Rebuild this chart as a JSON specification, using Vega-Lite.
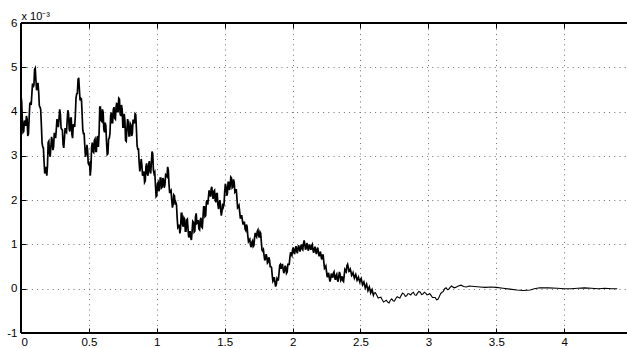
{
  "$schema": "https://vega.github.io/schema/vega-lite/v6.json",
  "width": 606,
  "height": 310,
  "autosize": {"type": "none"},
  "padding": {"left": 21, "top": 23, "right": 0, "bottom": 15},
  "background": "white",
  "config": {
    "view": {"stroke": null},
    "font": "Liberation Sans",
    "axis": {
      "labelFont": "Liberation Sans",
      "labelFontSize": 11.5,
      "labelColor": "black",
      "domain": false,
      "tickColor": "black",
      "tickWidth": 1,
      "tickSize": -5,
      "gridColor": "#6e6e6e",
      "gridDash": [1, 4.2],
      "gridWidth": 1,
      "titleFont": "Liberation Sans",
      "titleFontWeight": "normal",
      "titleColor": "black"
    }
  },
  "data": {
    "values": [
      {"t":0.00,"v":4.35},{"t":0.005,"v":4.23},{"t":0.01,"v":3.8},{"t":0.015,"v":3.53},{"t":0.02,"v":3.55},{"t":0.025,"v":3.8},{"t":0.03,"v":3.75},{"t":0.035,"v":3.68},{"t":0.04,"v":3.9},{"t":0.045,"v":3.83},
      {"t":0.05,"v":3.45},{"t":0.055,"v":3.5},{"t":0.06,"v":3.85},{"t":0.065,"v":4.18},{"t":0.07,"v":4.2},{"t":0.075,"v":4.15},{"t":0.08,"v":4.4},{"t":0.085,"v":4.63},{"t":0.09,"v":4.55},{"t":0.095,"v":4.6},
      {"t":0.10,"v":4.95},{"t":0.105,"v":4.98},{"t":0.11,"v":4.7},{"t":0.115,"v":4.48},{"t":0.12,"v":4.55},{"t":0.125,"v":4.65},{"t":0.13,"v":4.45},{"t":0.135,"v":4.13},{"t":0.14,"v":4.1},{"t":0.145,"v":4.05},
      {"t":0.15,"v":3.7},{"t":0.155,"v":3.3},{"t":0.16,"v":3.2},{"t":0.165,"v":3.18},{"t":0.17,"v":2.85},{"t":0.175,"v":2.6},{"t":0.18,"v":2.65},{"t":0.185,"v":2.75},{"t":0.19,"v":2.55},{"t":0.195,"v":2.78},
      {"t":0.20,"v":3.3},{"t":0.205,"v":3.33},{"t":0.21,"v":3.05},{"t":0.215,"v":2.98},{"t":0.22,"v":3.2},{"t":0.225,"v":3.43},{"t":0.23,"v":3.35},{"t":0.235,"v":3.13},{"t":0.24,"v":3.2},{"t":0.245,"v":3.5},
      {"t":0.25,"v":3.5},{"t":0.255,"v":3.4},{"t":0.26,"v":3.6},{"t":0.265,"v":3.83},{"t":0.27,"v":3.75},{"t":0.275,"v":3.65},{"t":0.28,"v":3.85},{"t":0.285,"v":4.05},{"t":0.29,"v":3.95},{"t":0.295,"v":3.63},
      {"t":0.30,"v":3.6},{"t":0.305,"v":3.58},{"t":0.31,"v":3.25},{"t":0.315,"v":3.18},{"t":0.32,"v":3.4},{"t":0.325,"v":3.63},{"t":0.33,"v":3.55},{"t":0.335,"v":3.53},{"t":0.34,"v":3.8},{"t":0.345,"v":4.03},
      {"t":0.35,"v":3.95},{"t":0.355,"v":3.6},{"t":0.36,"v":3.55},{"t":0.365,"v":3.85},{"t":0.37,"v":3.85},{"t":0.375,"v":3.48},{"t":0.38,"v":3.4},{"t":0.385,"v":3.7},{"t":0.39,"v":3.7},{"t":0.395,"v":3.65},
      {"t":0.40,"v":3.9},{"t":0.405,"v":4.3},{"t":0.41,"v":4.4},{"t":0.415,"v":4.41},{"t":0.42,"v":4.72},{"t":0.425,"v":4.76},{"t":0.43,"v":4.5},{"t":0.435,"v":4.25},{"t":0.44,"v":4.3},{"t":0.445,"v":4.28},
      {"t":0.45,"v":3.95},{"t":0.455,"v":3.58},{"t":0.46,"v":3.5},{"t":0.465,"v":3.5},{"t":0.47,"v":3.2},{"t":0.475,"v":2.98},{"t":0.48,"v":3.05},{"t":0.485,"v":3.25},{"t":0.49,"v":3.15},{"t":0.495,"v":2.83},
      {"t":0.50,"v":2.8},{"t":0.505,"v":2.83},{"t":0.51,"v":2.55},{"t":0.515,"v":2.73},{"t":0.52,"v":3.2},{"t":0.525,"v":3.3},{"t":0.53,"v":3.1},{"t":0.535,"v":3.08},{"t":0.54,"v":3.35},{"t":0.545,"v":3.38},
      {"t":0.55,"v":3.1},{"t":0.555,"v":3.1},{"t":0.56,"v":3.4},{"t":0.565,"v":3.45},{"t":0.57,"v":3.2},{"t":0.575,"v":3.5},{"t":0.58,"v":4.1},{"t":0.585,"v":4.1},{"t":0.59,"v":3.8},{"t":0.595,"v":3.78},
      {"t":0.60,"v":4.05},{"t":0.605,"v":3.98},{"t":0.61,"v":3.6},{"t":0.615,"v":3.53},{"t":0.62,"v":3.75},{"t":0.625,"v":3.68},{"t":0.63,"v":3.3},{"t":0.635,"v":3.03},{"t":0.64,"v":3.05},{"t":0.645,"v":3.38},
      {"t":0.65,"v":3.4},{"t":0.655,"v":3.5},{"t":0.66,"v":3.9},{"t":0.665,"v":3.98},{"t":0.67,"v":3.75},{"t":0.675,"v":3.75},{"t":0.68,"v":4.05},{"t":0.685,"v":4.1},{"t":0.69,"v":3.85},{"t":0.695,"v":3.83},
      {"t":0.70,"v":4.1},{"t":0.705,"v":4.2},{"t":0.71,"v":4.0},{"t":0.715,"v":4.0},{"t":0.72,"v":4.3},{"t":0.725,"v":4.28},{"t":0.73,"v":3.95},{"t":0.735,"v":3.9},{"t":0.74,"v":4.15},{"t":0.745,"v":4.05},
      {"t":0.75,"v":3.65},{"t":0.755,"v":3.65},{"t":0.76,"v":3.95},{"t":0.765,"v":3.8},{"t":0.77,"v":3.35},{"t":0.775,"v":3.33},{"t":0.78,"v":3.6},{"t":0.785,"v":3.83},{"t":0.79,"v":3.75},{"t":0.795,"v":3.45},
      {"t":0.80,"v":3.45},{"t":0.805,"v":3.73},{"t":0.81,"v":3.7},{"t":0.815,"v":3.45},{"t":0.82,"v":3.5},{"t":0.825,"v":3.8},{"t":0.83,"v":3.8},{"t":0.835,"v":3.73},{"t":0.84,"v":3.95},{"t":0.845,"v":3.93},
      {"t":0.85,"v":3.6},{"t":0.855,"v":3.23},{"t":0.86,"v":3.15},{"t":0.865,"v":3.15},{"t":0.87,"v":2.85},{"t":0.875,"v":2.65},{"t":0.88,"v":2.75},{"t":0.885,"v":2.93},{"t":0.89,"v":2.8},{"t":0.895,"v":2.55},
      {"t":0.90,"v":2.6},{"t":0.905,"v":2.65},{"t":0.91,"v":2.4},{"t":0.915,"v":2.43},{"t":0.92,"v":2.75},{"t":0.925,"v":2.83},{"t":0.93,"v":2.6},{"t":0.935,"v":2.55},{"t":0.94,"v":2.8},{"t":0.945,"v":2.88},
      {"t":0.95,"v":2.65},{"t":0.955,"v":2.6},{"t":0.96,"v":2.85},{"t":0.965,"v":3.1},{"t":0.97,"v":3.05},{"t":0.975,"v":2.68},{"t":0.98,"v":2.6},{"t":0.985,"v":2.63},{"t":0.99,"v":2.35},{"t":0.995,"v":2.08},
      {"t":1.00,"v":2.1},{"t":1.005,"v":2.37},{"t":1.01,"v":2.4},{"t":1.015,"v":2.2},{"t":1.02,"v":2.25},{"t":1.025,"v":2.5},{"t":1.03,"v":2.5},{"t":1.035,"v":2.28},{"t":1.04,"v":2.3},{"t":1.045,"v":2.5},
      {"t":1.05,"v":2.45},{"t":1.055,"v":2.28},{"t":1.06,"v":2.35},{"t":1.065,"v":2.57},{"t":1.07,"v":2.55},{"t":1.075,"v":2.53},{"t":1.08,"v":2.75},{"t":1.085,"v":2.67},{"t":1.09,"v":2.35},{"t":1.095,"v":2.16},
      {"t":1.10,"v":2.2},{"t":1.105,"v":2.22},{"t":1.11,"v":2.0},{"t":1.115,"v":1.83},{"t":1.12,"v":1.9},{"t":1.125,"v":2.12},{"t":1.13,"v":2.1},{"t":1.135,"v":1.9},{"t":1.14,"v":1.95},{"t":1.145,"v":1.9},
      {"t":1.15,"v":1.6},{"t":1.155,"v":1.38},{"t":1.16,"v":1.4},{"t":1.165,"v":1.45},{"t":1.17,"v":1.25},{"t":1.175,"v":1.36},{"t":1.18,"v":1.7},{"t":1.185,"v":1.7},{"t":1.19,"v":1.45},{"t":1.195,"v":1.4},
      {"t":1.20,"v":1.6},{"t":1.205,"v":1.57},{"t":1.21,"v":1.3},{"t":1.215,"v":1.3},{"t":1.22,"v":1.55},{"t":1.225,"v":1.57},{"t":1.23,"v":1.35},{"t":1.235,"v":1.16},{"t":1.24,"v":1.2},{"t":1.245,"v":1.3},
      {"t":1.25,"v":1.15},{"t":1.255,"v":1.1},{"t":1.26,"v":1.3},{"t":1.265,"v":1.52},{"t":1.27,"v":1.5},{"t":1.275,"v":1.28},{"t":1.28,"v":1.3},{"t":1.285,"v":1.62},{"t":1.29,"v":1.7},{"t":1.295,"v":1.48},
      {"t":1.30,"v":1.5},{"t":1.305,"v":1.55},{"t":1.31,"v":1.35},{"t":1.315,"v":1.33},{"t":1.32,"v":1.55},{"t":1.325,"v":1.6},{"t":1.33,"v":1.4},{"t":1.335,"v":1.38},{"t":1.34,"v":1.6},{"t":1.345,"v":1.85},
      {"t":1.35,"v":1.85},{"t":1.355,"v":1.63},{"t":1.36,"v":1.65},{"t":1.365,"v":1.95},{"t":1.37,"v":2.0},{"t":1.375,"v":1.9},{"t":1.38,"v":2.05},{"t":1.385,"v":2.22},{"t":1.39,"v":2.15},{"t":1.395,"v":2.08},
      {"t":1.40,"v":2.25},{"t":1.405,"v":2.3},{"t":1.41,"v":2.1},{"t":1.415,"v":2.03},{"t":1.42,"v":2.2},{"t":1.425,"v":2.22},{"t":1.43,"v":2.0},{"t":1.435,"v":1.95},{"t":1.44,"v":2.15},{"t":1.445,"v":2.15},
      {"t":1.45,"v":1.9},{"t":1.455,"v":1.8},{"t":1.46,"v":1.95},{"t":1.465,"v":2.0},{"t":1.47,"v":1.8},{"t":1.475,"v":1.65},{"t":1.48,"v":1.75},{"t":1.485,"v":1.92},{"t":1.49,"v":1.85},{"t":1.495,"v":1.9},
      {"t":1.50,"v":2.2},{"t":1.505,"v":2.37},{"t":1.51,"v":2.3},{"t":1.515,"v":2.1},{"t":1.52,"v":2.15},{"t":1.525,"v":2.4},{"t":1.53,"v":2.4},{"t":1.535,"v":2.23},{"t":1.54,"v":2.3},{"t":1.545,"v":2.52},
      {"t":1.55,"v":2.5},{"t":1.555,"v":2.28},{"t":1.56,"v":2.3},{"t":1.565,"v":2.47},{"t":1.57,"v":2.4},{"t":1.575,"v":2.18},{"t":1.58,"v":2.2},{"t":1.585,"v":2.25},{"t":1.59,"v":2.05},{"t":1.595,"v":1.83},
      {"t":1.60,"v":1.85},{"t":1.605,"v":1.88},{"t":1.61,"v":1.75},{"t":1.615,"v":1.6},{"t":1.62,"v":1.6},{"t":1.625,"v":1.66},{"t":1.63,"v":1.55},{"t":1.635,"v":1.45},{"t":1.64,"v":1.5},{"t":1.645,"v":1.5},
      {"t":1.65,"v":1.35},{"t":1.655,"v":1.32},{"t":1.66,"v":1.45},{"t":1.665,"v":1.4},{"t":1.67,"v":1.2},{"t":1.675,"v":1.07},{"t":1.68,"v":1.1},{"t":1.685,"v":1.12},{"t":1.69,"v":0.98},{"t":1.695,"v":0.94},
      {"t":1.70,"v":1.05},{"t":1.705,"v":1.08},{"t":1.71,"v":0.95},{"t":1.715,"v":0.97},{"t":1.72,"v":1.15},{"t":1.725,"v":1.26},{"t":1.73,"v":1.2},{"t":1.735,"v":1.17},{"t":1.74,"v":1.3},{"t":1.745,"v":1.33},
      {"t":1.75,"v":1.2},{"t":1.755,"v":1.16},{"t":1.76,"v":1.28},{"t":1.765,"v":1.25},{"t":1.77,"v":1.05},{"t":1.775,"v":0.87},{"t":1.78,"v":0.85},{"t":1.785,"v":0.88},{"t":1.79,"v":0.75},{"t":1.795,"v":0.64},
      {"t":1.80,"v":0.68},{"t":1.805,"v":0.78},{"t":1.81,"v":0.72},{"t":1.815,"v":0.58},{"t":1.82,"v":0.6},{"t":1.825,"v":0.71},{"t":1.83,"v":0.65},{"t":1.835,"v":0.5},{"t":1.84,"v":0.5},{"t":1.845,"v":0.48},
      {"t":1.85,"v":0.3},{"t":1.855,"v":0.17},{"t":1.86,"v":0.2},{"t":1.865,"v":0.26},{"t":1.87,"v":0.15},{"t":1.875,"v":0.05},{"t":1.88,"v":0.1},{"t":1.885,"v":0.23},{"t":1.89,"v":0.2},{"t":1.895,"v":0.2},
      {"t":1.90,"v":0.35},{"t":1.905,"v":0.53},{"t":1.91,"v":0.55},{"t":1.915,"v":0.45},{"t":1.92,"v":0.5},{"t":1.925,"v":0.56},{"t":1.93,"v":0.45},{"t":1.935,"v":0.35},{"t":1.94,"v":0.4},{"t":1.945,"v":0.52},
      {"t":1.95,"v":0.48},{"t":1.955,"v":0.35},{"t":1.96,"v":0.38},{"t":1.965,"v":0.55},{"t":1.97,"v":0.55},{"t":1.975,"v":0.55},{"t":1.98,"v":0.7},{"t":1.985,"v":0.82},{"t":1.99,"v":0.78},{"t":1.995,"v":0.75},
      {"t":2.00,"v":0.88},{"t":2.005,"v":0.93},{"t":2.01,"v":0.82},{"t":2.015,"v":0.78},{"t":2.02,"v":0.9},{"t":2.025,"v":0.96},{"t":2.03,"v":0.85},{"t":2.035,"v":0.8},{"t":2.04,"v":0.92},{"t":2.045,"v":0.98},
      {"t":2.05,"v":0.88},{"t":2.055,"v":0.84},{"t":2.06,"v":0.95},{"t":2.065,"v":1.0},{"t":2.07,"v":0.9},{"t":2.075,"v":0.88},{"t":2.08,"v":1.02},{"t":2.085,"v":1.09},{"t":2.09,"v":1.0},{"t":2.095,"v":0.88},
      {"t":2.10,"v":0.92},{"t":2.105,"v":1.03},{"t":2.11,"v":0.98},{"t":2.115,"v":0.86},{"t":2.12,"v":0.9},{"t":2.125,"v":1.0},{"t":2.13,"v":0.95},{"t":2.135,"v":0.88},{"t":2.14,"v":0.97},{"t":2.145,"v":1.0},
      {"t":2.15,"v":0.88},{"t":2.155,"v":0.81},{"t":2.16,"v":0.9},{"t":2.165,"v":0.95},{"t":2.17,"v":0.85},{"t":2.175,"v":0.78},{"t":2.18,"v":0.88},{"t":2.185,"v":0.93},{"t":2.19,"v":0.82},{"t":2.195,"v":0.73},
      {"t":2.20,"v":0.8},{"t":2.205,"v":0.84},{"t":2.21,"v":0.72},{"t":2.215,"v":0.66},{"t":2.22,"v":0.76},{"t":2.225,"v":0.76},{"t":2.23,"v":0.6},{"t":2.235,"v":0.46},{"t":2.24,"v":0.48},{"t":2.245,"v":0.51},
      {"t":2.25,"v":0.38},{"t":2.255,"v":0.26},{"t":2.26,"v":0.3},{"t":2.265,"v":0.36},{"t":2.27,"v":0.25},{"t":2.275,"v":0.16},{"t":2.28,"v":0.22},{"t":2.285,"v":0.34},{"t":2.29,"v":0.3},{"t":2.295,"v":0.25},
      {"t":2.30,"v":0.35},{"t":2.305,"v":0.38},{"t":2.31,"v":0.25},{"t":2.315,"v":0.2},{"t":2.32,"v":0.3},{"t":2.325,"v":0.33},{"t":2.33,"v":0.2},{"t":2.335,"v":0.16},{"t":2.34,"v":0.28},{"t":2.345,"v":0.38},
      {"t":2.35,"v":0.32},{"t":2.355,"v":0.19},{"t":2.36,"v":0.22},{"t":2.365,"v":0.28},{"t":2.37,"v":0.18},{"t":2.375,"v":0.16},{"t":2.38,"v":0.3},{"t":2.385,"v":0.43},{"t":2.39,"v":0.4},{"t":2.395,"v":0.38},
      {"t":2.40,"v":0.52},{"t":2.405,"v":0.55},{"t":2.41,"v":0.48},{"t":2.415,"v":0.39},{"t":2.42,"v":0.4},{"t":2.425,"v":0.44},{"t":2.43,"v":0.38},{"t":2.435,"v":0.3},{"t":2.44,"v":0.32},{"t":2.445,"v":0.36},
      {"t":2.45,"v":0.3},{"t":2.455,"v":0.24},{"t":2.46,"v":0.28},{"t":2.465,"v":0.32},{"t":2.47,"v":0.26},{"t":2.475,"v":0.19},{"t":2.48,"v":0.22},{"t":2.485,"v":0.26},{"t":2.49,"v":0.2},{"t":2.495,"v":0.15},
      {"t":2.50,"v":0.2},{"t":2.505,"v":0.23},{"t":2.51,"v":0.16},{"t":2.515,"v":0.09},{"t":2.52,"v":0.12},{"t":2.525,"v":0.15},{"t":2.53,"v":0.08},{"t":2.535,"v":0.02},{"t":2.54,"v":0.06},{"t":2.545,"v":0.1},
      {"t":2.55,"v":0.03},{"t":2.555,"v":-0.04},{"t":2.56,"v":0.0},{"t":2.565,"v":0.04},{"t":2.57,"v":-0.02},{"t":2.575,"v":-0.09},{"t":2.58,"v":-0.05},{"t":2.585,"v":-0.02},{"t":2.59,"v":-0.08},{"t":2.595,"v":-0.14},
      {"t":2.60,"v":-0.1},{"t":2.61,"v":-0.09},{"t":2.62,"v":-0.15},{"t":2.63,"v":-0.21},{"t":2.64,"v":-0.2},{"t":2.65,"v":-0.19},{"t":2.66,"v":-0.25},{"t":2.67,"v":-0.3},{"t":2.68,"v":-0.28},{"t":2.69,"v":-0.26},
      {"t":2.70,"v":-0.3},{"t":2.71,"v":-0.32},{"t":2.72,"v":-0.26},{"t":2.73,"v":-0.23},{"t":2.74,"v":-0.27},{"t":2.75,"v":-0.28},{"t":2.76,"v":-0.22},{"t":2.77,"v":-0.18},{"t":2.78,"v":-0.2},{"t":2.79,"v":-0.21},
      {"t":2.80,"v":-0.15},{"t":2.81,"v":-0.1},{"t":2.82,"v":-0.12},{"t":2.83,"v":-0.17},{"t":2.84,"v":-0.16},{"t":2.85,"v":-0.11},{"t":2.86,"v":-0.12},{"t":2.87,"v":-0.14},{"t":2.88,"v":-0.1},{"t":2.89,"v":-0.08},
      {"t":2.90,"v":-0.14},{"t":2.91,"v":-0.15},{"t":2.92,"v":-0.1},{"t":2.93,"v":-0.06},{"t":2.94,"v":-0.08},{"t":2.95,"v":-0.13},{"t":2.96,"v":-0.12},{"t":2.97,"v":-0.08},{"t":2.98,"v":-0.1},{"t":2.99,"v":-0.14},
      {"t":3.00,"v":-0.13},{"t":3.01,"v":-0.11},{"t":3.02,"v":-0.15},{"t":3.03,"v":-0.2},{"t":3.04,"v":-0.2},{"t":3.05,"v":-0.2},{"t":3.06,"v":-0.25},{"t":3.07,"v":-0.24},{"t":3.08,"v":-0.18},{"t":3.09,"v":-0.11},
      {"t":3.10,"v":-0.08},{"t":3.11,"v":-0.06},{"t":3.12,"v":0.0},{"t":3.13,"v":0.02},{"t":3.14,"v":-0.02},{"t":3.15,"v":-0.01},{"t":3.16,"v":0.03},{"t":3.17,"v":0.06},{"t":3.18,"v":0.04},{"t":3.19,"v":0.02},
      {"t":3.20,"v":0.03},{"t":3.22,"v":0.06},{"t":3.24,"v":0.08},{"t":3.26,"v":0.05},{"t":3.28,"v":0.04},
      {"t":3.30,"v":0.06},{"t":3.34,"v":0.05},{"t":3.38,"v":0.04},{"t":3.42,"v":0.03},{"t":3.46,"v":0.04},
      {"t":3.50,"v":0.03},{"t":3.55,"v":0.01},{"t":3.60,"v":-0.01},{"t":3.65,"v":-0.03},{"t":3.70,"v":-0.04},
      {"t":3.75,"v":-0.03},{"t":3.78,"v":0.0},{"t":3.82,"v":0.02},{"t":3.88,"v":0.02},{"t":3.95,"v":0.01},
      {"t":4.00,"v":0.0},{"t":4.05,"v":0.0},{"t":4.10,"v":0.01},{"t":4.15,"v":0.02},{"t":4.20,"v":0.01},
      {"t":4.25,"v":0.0},{"t":4.30,"v":0.01},{"t":4.35,"v":0.0},{"t":4.39,"v":0.0}
    ]
  },
  "layer": [
    {
      "transform": [{"filter": "datum.t <= 2.6"}],
      "mark": {"type": "line", "color": "black", "strokeWidth": 1.7, "strokeJoin": "miter", "interpolate": "linear"},
      "encoding": {
        "x": {
          "field": "t", "type": "quantitative",
          "scale": {"domain": [0, 4.4625], "nice": false, "zero": false},
          "axis": {
            "orient": "bottom", "title": null, "grid": true,
            "values": [0, 0.5, 1, 1.5, 2, 2.5, 3, 3.5, 4],
            "labelExpr": "'' + datum.value",
            "labelPadding": 8
          }
        },
        "y": {
          "field": "v", "type": "quantitative",
          "scale": {"domain": [-1, 6], "nice": false, "zero": false},
          "axis": {
            "orient": "left", "grid": true,
            "values": [-1, 0, 1, 2, 3, 4, 5, 6],
            "labelExpr": "'' + datum.value",
            "labelPadding": 9,
            "title": "x 10⁻³",
            "titleAngle": 0,
            "titleX": 0,
            "titleY": -4,
            "titleAlign": "left",
            "titleBaseline": "alphabetic",
            "titleFontSize": 11
          }
        }
      }
    },
    {
      "transform": [{"filter": "datum.t >= 2.6"}],
      "mark": {"type": "line", "color": "black", "strokeWidth": 1.1, "strokeJoin": "miter", "interpolate": "linear"},
      "encoding": {
        "x": {"field": "t", "type": "quantitative", "axis": null},
        "y": {"field": "v", "type": "quantitative", "axis": null}
      }
    },
    {
      "mark": {"type": "line", "strokeOpacity": 0},
      "encoding": {
        "x": {
          "field": "t", "type": "quantitative",
          "axis": {
            "orient": "top", "title": null, "grid": false, "labels": false,
            "values": [0, 0.5, 1, 1.5, 2, 2.5, 3, 3.5, 4]
          }
        },
        "y": {"field": "v", "type": "quantitative", "axis": null}
      }
    },
    {
      "mark": {"type": "rule", "color": "black", "strokeWidth": 1.2},
      "encoding": {"y": {"datum": 6, "type": "quantitative", "axis": null}}
    },
    {
      "mark": {"type": "rule", "color": "black", "strokeWidth": 1.2},
      "encoding": {"y": {"datum": -1, "type": "quantitative", "axis": null}}
    },
    {
      "mark": {"type": "rule", "color": "black", "strokeWidth": 1.2},
      "encoding": {"x": {"datum": 0, "type": "quantitative", "axis": null}}
    }
  ],
  "resolve": {"axis": {"x": "independent", "y": "independent"}}
}
